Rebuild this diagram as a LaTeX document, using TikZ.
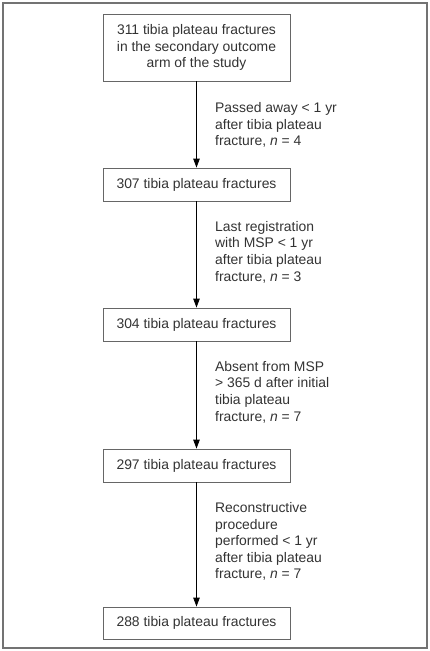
\documentclass[tikz,border=0pt]{standalone}
\usepackage{fontspec}
\setmainfont{Liberation Sans}
\usetikzlibrary{arrows.meta}
\begin{document}
\begin{tikzpicture}[x=1pt, y=-1pt,
    box/.style={draw=black!60, line width=0.8pt, minimum width=187pt, text=black!80,
        align=center, font=\fontsize{13.9}{16.6}\selectfont},
    note/.style={anchor=west, inner sep=0pt, align=left, text=black!80,
        font=\fontsize{13.9}{16.6}\selectfont},
    flow/.style={-{Triangle[length=9pt, width=6.5pt]}, line width=0.8pt}]
    \useasboundingbox (0, 0) rectangle (430, 651);
    \draw[black!55, line width=1.5pt] (3, 3) rectangle (427, 648);

    % Boxes, one per stage
    \node[box, minimum height=67pt] (n311) at (196.5, 47.5) {
        311 tibia plateau fractures\\
        in the secondary outcome\\
        arm of the study
    };
    \node[box, minimum height=33pt] (n307) at (196.5, 184.5) {307 tibia plateau fractures};
    \node[box, minimum height=33pt] (n304) at (196.5, 324.5) {304 tibia plateau fractures};
    \node[box, minimum height=33pt] (n297) at (196.5, 465.5) {297 tibia plateau fractures};
    \node[box, minimum height=32pt] (n288) at (196.5, 623) {288 tibia plateau fractures};

    % Exclusions beside the arrows
    \node[note] (x1) at (215, 125) {
        Passed away < 1 yr\\
        after tibia plateau\\
        fracture, \textit{n} = 4
    };
    \node[note] (x2) at (215, 252) {
        Last registration\\
        with MSP < 1 yr\\
        after tibia plateau\\
        fracture, \textit{n} = 3
    };
    \node[note] (x3) at (215, 392) {
        Absent from MSP\\
        > 365 d after initial\\
        tibia plateau\\
        fracture, \textit{n} = 7
    };
    \node[note] (x4) at (215, 541.5) {
        Reconstructive\\
        procedure\\
        performed < 1 yr\\
        after tibia plateau\\
        fracture, \textit{n} = 7
    };

    \draw[flow] (n311) -- (n307);
    \draw[flow] (n307) -- (n304);
    \draw[flow] (n304) -- (n297);
    \draw[flow] (n297) -- (n288);
\end{tikzpicture}
\end{document}
